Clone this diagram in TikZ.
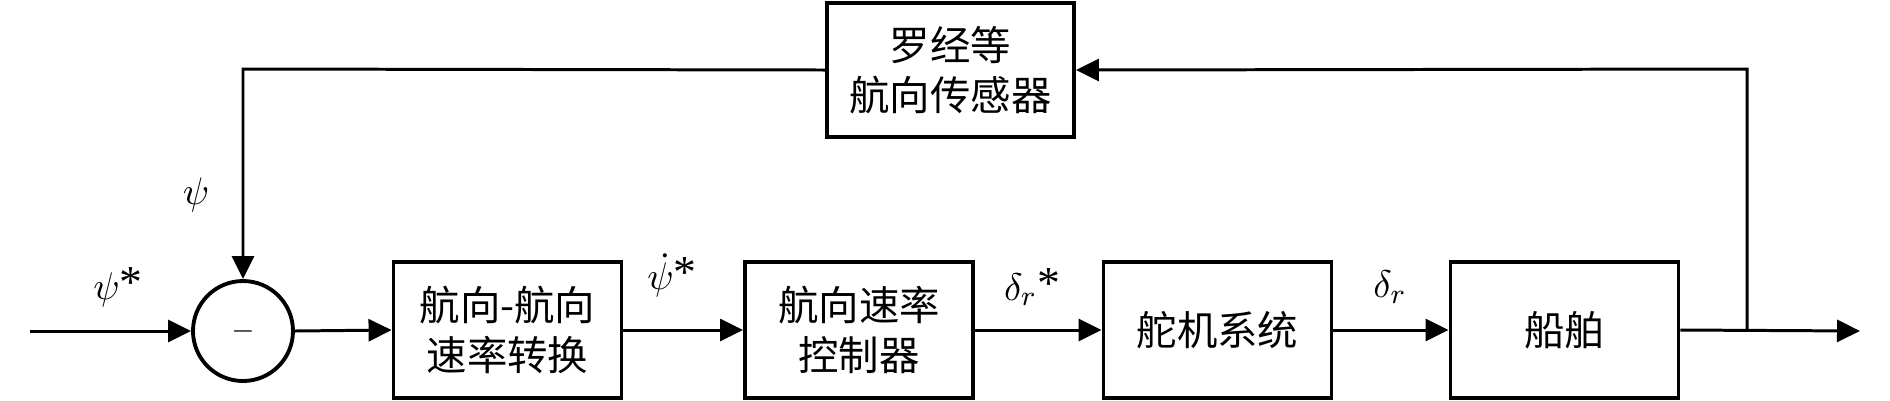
\documentclass[tikz,border=0pt]{standalone}
\usepackage{fontspec}
\newfontfamily\cjk{Noto Sans CJK SC}
\newfontfamily\starfont{Liberation Serif}
\newcommand{\mystar}{\raisebox{0.05em}{\starfont\fontsize{13}{14}\selectfont *}}
\usetikzlibrary{arrows.meta}
\begin{document}
\begin{tikzpicture}[
  blk/.style={draw, line width=1.1pt, minimum width=2.28cm, minimum height=1.36cm, inner sep=0pt, align=center,
    font=\cjk\fontsize{11.5}{14.2}\selectfont},
  sumc/.style={draw, circle, line width=1.1pt, minimum size=1.0cm, inner sep=0pt, font=\fontsize{8}{9}\selectfont},
  lbl/.style={inner sep=0pt, font=\fontsize{11}{12}\selectfont},
  conn/.style={line width=0.85pt, -{Triangle[length=2.3mm, width=2.2mm]}},
  wire/.style={line width=0.85pt}
]
\useasboundingbox (0,0) rectangle (18.9,4.0);
\node[sumc] (sum) at (2.43,0.69) {$-$};
\node[blk] (b1) at (5.075,0.70) {航向-航向\\速率转换};
\node[blk] (b2) at (8.59,0.70) {航向速率\\控制器};
\node[blk] (b3) at (12.175,0.70) {舵机系统};
\node[blk] (b4) at (15.645,0.70) {船舶};
\node[blk, minimum width=2.47cm, minimum height=1.34cm] (sens) at (9.505,3.30) {罗经等\\航向传感器};
\coordinate (in) at (0.30,0.69);
\coordinate (out) at (18.60,0.69);
\coordinate (tap) at (17.47,0.69);
\coordinate (tr) at (17.47,3.31);
\coordinate (tl) at (2.43,3.31);
\draw[conn] (in) -- (sum.west);
\draw[conn] (sum.east) -- (b1.west);
\draw[conn] (b1.east) -- (b2.west);
\draw[conn] (b2.east) -- (b3.west);
\draw[conn] (b3.east) -- (b4.west);
\draw[conn] (b4.east) -- (out);
\draw[conn] (tap) -- (tr) -- (sens.east);
\draw[conn] (sens.west) -- (tl) -- (sum.north);
\node[lbl] (l1) at (1.18,1.13) {$\psi$\mystar};
\node[lbl] (l2) at (1.96,2.05) {$\psi$};
\node[lbl] (l3) at (6.72,1.25) {$\dot{\psi}$\mystar};
\node[lbl] (l4) at (10.32,1.13) {$\delta_r$\mystar};
\node[lbl] (l5) at (13.90,1.13) {$\delta_r$};
\end{tikzpicture}
\end{document}
